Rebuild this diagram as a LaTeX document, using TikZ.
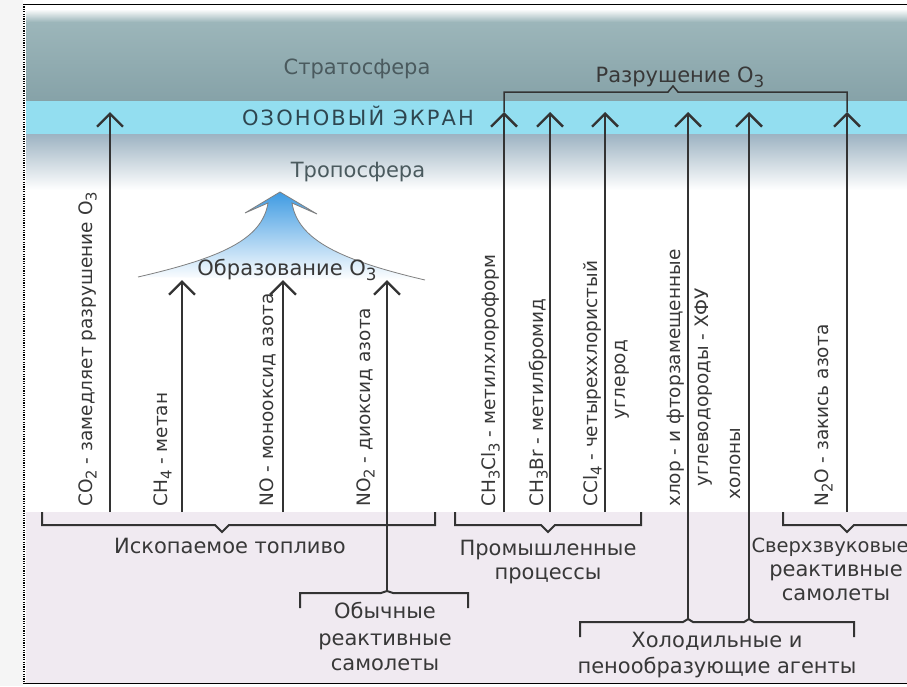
\documentclass[tikz,border=0pt]{standalone}
\usepackage{fontspec}
\usepackage{graphicx}
\setmainfont{DejaVu Sans}
\usetikzlibrary{arrows.meta}
\definecolor{tc}{HTML}{383838}
\definecolor{lc}{HTML}{333333}
\definecolor{stratTop}{HTML}{9CB6BA}
\definecolor{strat}{HTML}{86A2A8}
\definecolor{ozone}{HTML}{93DEF0}
\definecolor{trop}{HTML}{9DB3C2}
\definecolor{tropmid}{HTML}{C2E2EE}
\definecolor{ground}{HTML}{F0EAF1}
\definecolor{margin}{HTML}{F5F5F5}
\definecolor{pyrtop}{HTML}{3F9BE2}
\definecolor{pyrmid}{HTML}{9CCDF0}
\definecolor{strtxt}{HTML}{4A5A5E}
\definecolor{oztxt}{HTML}{2E4650}
\newcommand{\lsub}[1]{\raisebox{-0.45ex}{\scalebox{0.8}{#1}}}
\begin{document}
\begin{tikzpicture}[x=1pt,y=-1pt,
  lab/.style={font=\fontsize{21}{25}\selectfont, text=tc, inner sep=0pt, anchor=base},
  vlab/.style={font=\fontsize{18.5}{21}\selectfont, text=tc, inner sep=0pt, rotate=90, anchor=base west},
  riser/.style={draw=lc, line width=2.4pt, -{Straight Barb[length=13pt,width=26pt]}},
  brk/.style={draw=lc, line width=2pt, line join=miter},
  thinbrk/.style={draw=lc, line width=1.5pt}]
\useasboundingbox (0,0) rectangle (907,686);
\fill[white] (0,0) rectangle (907,686);
\fill[margin] (0,0) rectangle (23,686);
% bands
\shade[top color=white, bottom color=stratTop] (26,9) rectangle (907,22);
\shade[top color=stratTop, bottom color=strat] (26,22) rectangle (907,101);
\fill[ozone] (26,101) rectangle (907,134);
\shade[top color=trop, middle color=tropmid, bottom color=white] (26,134) rectangle (907,190);
\fill[ground] (26,512) rectangle (907,683);
% frame
\draw[line width=1.3pt, black] (24,4.5) -- (907,4.5);
\draw[line width=1.3pt, black] (24,683.5) -- (907,683.5);
\draw[line width=1.2pt, black, dash pattern=on 1.2pt off 1.2pt] (24,4) -- (24,684);

% layer titles
\node[lab, text=strtxt] (strat) at (357,74) {Стратосфера};
\node[lab, text=oztxt, font=\fontsize{21}{25}\selectfont\addfontfeature{LetterSpace=10}] (ozon) at (358,125) {ОЗОНОВЫЙ ЭКРАН};
\node[lab, text=strtxt] (trop) at (358,177) {Тропосфера};
\node[lab] (razr) at (680,82) {Разрушение O\lsub{3}};

% ozone formation shape
\shade[top color=pyrtop, middle color=pyrmid, bottom color=white]
  (280,192) -- (317,214) -- (292,203)
  .. controls (298,240) and (340,260) .. (425,280)
  -- (138,277)
  .. controls (220,258) and (262,240) .. (268,203)
  -- (245,213) -- cycle;
\draw[gray, line width=0.8pt]
  (425,280) .. controls (340,260) and (298,240) .. (292,203)
  -- (317,214) -- (280,192) -- (245,213) -- (268,203)
  .. controls (262,240) and (220,258) .. (138,277);
\node[lab] (obraz) at (287,275) {Образование O\lsub{3}};

% arrow end points
\coordinate (co2b) at (110,512); \coordinate (co2t) at (110,112);
\coordinate (ch4b) at (182,512); \coordinate (ch4t) at (182,280);
\coordinate (nob)  at (283,512); \coordinate (not)  at (283,280);
\coordinate (no2b) at (387,591); \coordinate (no2t) at (387,280);
\coordinate (clb)  at (504,512); \coordinate (clt)  at (504,112);
\coordinate (brb)  at (550,512); \coordinate (brt)  at (550,112);
\coordinate (ccb)  at (605,512); \coordinate (cct)  at (605,112);
\coordinate (h1b)  at (688,619); \coordinate (h1t)  at (688,112);
\coordinate (h2b)  at (749,619); \coordinate (h2t)  at (749,112);
\coordinate (n2ob) at (847,512); \coordinate (n2ot) at (847,112);

\draw[riser] (co2b) -- (co2t);
\draw[riser] (ch4b) -- (ch4t);
\draw[riser] (nob) -- (not);
\draw[riser] (no2b) -- (no2t);
\draw[riser] (clb) -- (clt);
\draw[riser] (brb) -- (brt);
\draw[riser] (ccb) -- (cct);
\draw[riser] (h1b) -- (h1t);
\draw[riser] (h2b) -- (h2t);
\draw[riser] (n2ob) -- (n2ot);

% destruction bracket
\draw[thinbrk] (clt) -- (504,92) -- (668,92) -- (673,86) -- (678,92) -- (847,92) -- (n2ot);

% vertical labels
\node[vlab] (lco2) at (92,507) {CO\lsub{2} - замедляет разрушение O\lsub{3}};
\node[vlab] (lch4) at (167,507) {CH\lsub{4} - метан};
\node[vlab] (lno) at (273,507) {NO - монооксид азота};
\node[vlab] (lno2) at (370,507) {NO\lsub{2} - диоксид азота};
\node[vlab] (lcl3) at (495,507) {CH\lsub{3}Cl\lsub{3} - метилхлороформ};
\node[vlab] (lbr) at (543,507) {CH\lsub{3}Br - метилбромид};
\node[vlab] (lccl) at (597,507) {CCl\lsub{4} - четыреххлористый};
\node[vlab] (lccl2) at (625,420) {углерод};
\node[vlab] (lhl1) at (680,507) {хлор - и фторзамещенные};
\node[vlab] (lhl2) at (708,487) {углеводороды - ХФУ};
\node[vlab] (lhl3) at (740,500) {холоны};
\node[vlab] (ln2o) at (828,507) {N\lsub{2}O - закись азота};

% bottom brackets
\draw[brk] (42,512) -- (42,525) -- (215,525) -- (222,532) -- (229,525) -- (435,525) -- (435,512);
\draw[brk] (455,512) -- (455,525) -- (541,525) -- (548,532) -- (555,525) -- (641,525) -- (641,512);
\draw[brk] (783,512) -- (783,525) -- (840,525) -- (847,532) -- (854,525) -- (910,525);
\draw[brk] (300,608) -- (300,593) -- (381,593) -- (no2b) -- (393,593) -- (468,593) -- (468,608);
\draw[brk] (580,637) -- (580,622) -- (683,622) -- (h1b) -- (693,622) -- (744,622) -- (h2b) -- (754,622) -- (854,622) -- (854,637);

% bottom texts
\node[lab] (isk) at (230,553) {Ископаемое топливо};
\node[lab] (obch1) at (385,618) {Обычные};
\node[lab] (obch2) at (385,645) {реактивные};
\node[lab] (obch3) at (385,670) {самолеты};
\node[lab] (prom1) at (548,555) {Промышленные};
\node[lab] (prom2) at (548,579) {процессы};
\node[lab] (hol1) at (717,647) {Холодильные и};
\node[lab] (hol2) at (717,673) {пенообразующие агенты};
\node[lab, font=\fontsize{19.5}{24}\selectfont] (sv1) at (830,552) {Сверхзвуковые};
\node[lab] (sv2) at (836,576) {реактивные};
\node[lab] (sv3) at (836,600) {самолеты};
\end{tikzpicture}
\end{document}
